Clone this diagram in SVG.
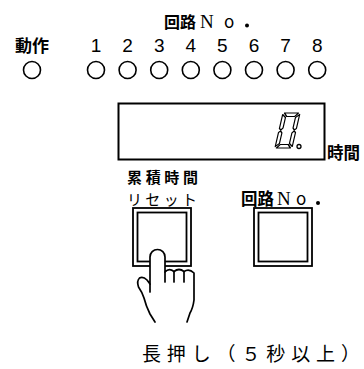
<svg xmlns="http://www.w3.org/2000/svg" width="364" height="369" viewBox="0 0 364 369">
<style>
.lbl{font-family:"Noto Sans CJK JP","Noto Sans",sans-serif;font-weight:700;fill:#000}
.reg{font-family:"Noto Sans CJK JP","Noto Sans",sans-serif;font-weight:400;fill:#000}
.num{font-family:"Liberation Sans",Arial,sans-serif;font-size:19px;fill:#000;text-anchor:middle}
.ser{font-family:"Liberation Serif","Times New Roman",serif;fill:#000}
.led{fill:none;stroke:#000;stroke-width:1.6}
.frame{fill:#fff;stroke:#000;stroke-width:1.8}
.seg{fill:#fff;stroke:#000;stroke-width:1.2;stroke-linejoin:round}
.hand{fill:#fff;stroke:#000;stroke-width:1.7;stroke-linejoin:round;stroke-linecap:round}
</style>
<rect width="364" height="369" fill="#fff"/>

<g id="label-circuit-top">
<text class="lbl" x="164" y="28" font-size="16">回路</text>
<text class="ser" x="200" y="28" font-size="19">N</text>
<text class="reg" x="224" y="28" font-size="17">o</text>
<circle cx="247" cy="25.5" r="2" fill="#000"/>
</g>

<g id="led-action">
<text class="lbl" x="32" y="52" font-size="17" text-anchor="middle">動作</text>
<circle class="led" cx="32" cy="70" r="8.5"/>
</g>
<g id="led-1"><text class="num" x="96" y="52">1</text><circle class="led" cx="96" cy="70" r="8.5"/></g>
<g id="led-2"><text class="num" x="127.6" y="52">2</text><circle class="led" cx="127.6" cy="70" r="8.5"/></g>
<g id="led-3"><text class="num" x="159.2" y="52">3</text><circle class="led" cx="159.2" cy="70" r="8.5"/></g>
<g id="led-4"><text class="num" x="190.8" y="52">4</text><circle class="led" cx="190.8" cy="70" r="8.5"/></g>
<g id="led-5"><text class="num" x="222.4" y="52">5</text><circle class="led" cx="222.4" cy="70" r="8.5"/></g>
<g id="led-6"><text class="num" x="254" y="52">6</text><circle class="led" cx="254" cy="70" r="8.5"/></g>
<g id="led-7"><text class="num" x="285.6" y="52">7</text><circle class="led" cx="285.6" cy="70" r="8.5"/></g>
<g id="led-8"><text class="num" x="317.2" y="52">8</text><circle class="led" cx="317.2" cy="70" r="8.5"/></g>

<g id="display">
<rect x="118.5" y="103.5" width="206" height="56" fill="#fff" stroke="#000" stroke-width="2"/>
<g transform="translate(283,113) skewX(-13)">
<polygon class="seg" points="1.5,0 15.5,0 12.5,3.5 4.5,3.5"/>
<polygon class="seg" points="0,1.5 3.5,4.5 3.5,15 1.75,17 0,15.5"/>
<polygon class="seg" points="17,1.5 17,15.5 15.25,17 13.5,15 13.5,4.5"/>
<polygon class="seg" points="0,19.5 1.75,18 3.5,20 3.5,30.5 0,33.5"/>
<polygon class="seg" points="17,19.5 17,33.5 13.5,30.5 13.5,20 15.25,18"/>
<polygon class="seg" points="1.5,35 4.5,31.5 12.5,31.5 15.5,35"/>
</g>
<circle cx="299" cy="146.5" r="2" fill="#fff" stroke="#000" stroke-width="1.3"/>
<text class="lbl" x="327" y="159" font-size="16.5">時間</text>
</g>

<g id="button-reset">
<text class="lbl" x="127" y="183" font-size="15" textLength="71" lengthAdjust="spacing">累積時間</text>
<text class="reg" x="127" y="205" font-size="15" textLength="70" lengthAdjust="spacing">リセット</text>
<rect class="frame" x="133" y="208" width="58" height="58"/>
<rect class="frame" x="137.5" y="212.5" width="49" height="49"/>
</g>

<g id="button-circuit">
<text class="lbl" x="241" y="205" font-size="16.5">回路</text>
<text class="ser" x="277" y="205" font-size="19">N</text>
<text class="reg" x="296" y="205" font-size="17">o</text>
<circle cx="318" cy="203" r="2" fill="#000"/>
<rect class="frame" x="254" y="208" width="58" height="58"/>
<rect class="frame" x="258.5" y="212.5" width="49" height="49"/>
</g>

<g id="hand">
<path class="hand" d="M155,322 L150,314 Q146,306 144,298 Q142,292 138.5,287 Q136.5,281 139.5,278 Q143,276 147,280 L150,284 L150,257 A7.5,7.5 0 0 1 165,257 L165,272 Q169,267.5 174,271.5 Q179,267.5 184,271.5 Q189,268 194,273 L194,300 Q193,308 190,313 L187,322"/>
<path class="hand" fill="none" d="M150,284 L150,292 M165,272 L165,282 M174,271.5 L174,282 M184,271.5 L184,282"/>
</g>

<g id="note">
<text class="reg" x="142" y="361" font-size="19" textLength="218" lengthAdjust="spacing">長押し（５秒以上）</text>
</g>
</svg>
